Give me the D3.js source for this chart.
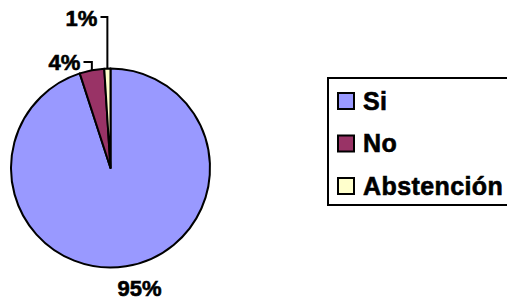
<!DOCTYPE html>
<html>
<head>
<meta charset="utf-8">
<script src="https://cdn.jsdelivr.net/npm/d3@7"></script>
<style>
  body { margin: 0; background: #fff; }
  svg { display: block; }
  text { font-family: "Liberation Sans", Arial, sans-serif; font-weight: bold; fill: #000; stroke: #000; stroke-width: 0.6px; }
</style>
</head>
<body>
<div id="vis"></div>
<script>
// chart data
var categories = ['Si', 'No', 'Abstención']
var values = [95, 4, 1]
var labels = ['95%', '4%', '1%']
var colors = ['#9999FF', '#993366', '#FFFFCC']

var w = 507,
  h = 305
var cx = 110.5,
  cy = 168,
  r = 99.5

var svg = d3.select('#vis').append('svg').attr('width', w).attr('height', h)

var pie = d3.pie().sort(null).value(function (d) { return d })
var arcs = pie(values)
var arc = d3.arc().innerRadius(0).outerRadius(r)

var g = svg.append('g').attr('transform', 'translate(' + cx + ',' + cy + ')')

g.selectAll('path')
  .data(arcs)
  .enter()
  .append('path')
  .attr('d', arc)
  .attr('fill', function (d, i) { return colors[i] })
  .attr('stroke', '#000')
  .attr('stroke-width', 2)
  .attr('stroke-linejoin', 'round')

// point on the rim at the middle of a slice
function rim(d) {
  var a = (d.startAngle + d.endAngle) / 2
  return [r * Math.sin(a), -r * Math.cos(a)]
}

// label anchors relative to the centre, hx/hy = start of leader line
var labelPos = [
  { x: 29, y: 128, leader: false },
  { x: -46, y: -98, leader: true, hx: -27, hy: -106 },
  { x: -29, y: -142, leader: true, hx: -10, hy: -151 },
]

arcs.forEach(function (d, i) {
  var p = labelPos[i]
  if (p.leader) {
    var e = rim(d)
    g.append('path')
      .attr('d', 'M' + p.hx + ',' + p.hy + 'H' + e[0] + 'V' + e[1])
      .attr('fill', 'none')
      .attr('stroke', '#000')
      .attr('stroke-width', 2)
  }
  g.append('text')
    .attr('x', p.x)
    .attr('y', p.y)
    .attr('text-anchor', 'middle')
    .style('font-size', '22px')
    .text(labels[i])
})

// legend
var leg = svg.append('g').attr('transform', 'translate(328,78)')
leg.append('rect')
  .attr('x', 0)
  .attr('y', 0)
  .attr('width', 200)
  .attr('height', 127)
  .attr('fill', '#fff')
  .attr('stroke', '#000')
  .attr('stroke-width', 2)

var items = leg.selectAll('g.item')
  .data(categories)
  .enter()
  .append('g')
  .attr('class', 'item')
  .attr('transform', function (d, i) { return 'translate(0,' + (15 + i * 42.5) + ')' })

items.append('rect')
  .attr('x', 10)
  .attr('y', 0)
  .attr('width', 16)
  .attr('height', 16)
  .attr('fill', function (d, i) { return colors[i] })
  .attr('stroke', '#000')
  .attr('stroke-width', 2)

items.append('text')
  .attr('x', 35)
  .attr('y', 16.5)
  .style('font-size', '25px')
  .style('letter-spacing', '0.4px')
  .text(function (d) { return d })
</script>
</body>
</html>
